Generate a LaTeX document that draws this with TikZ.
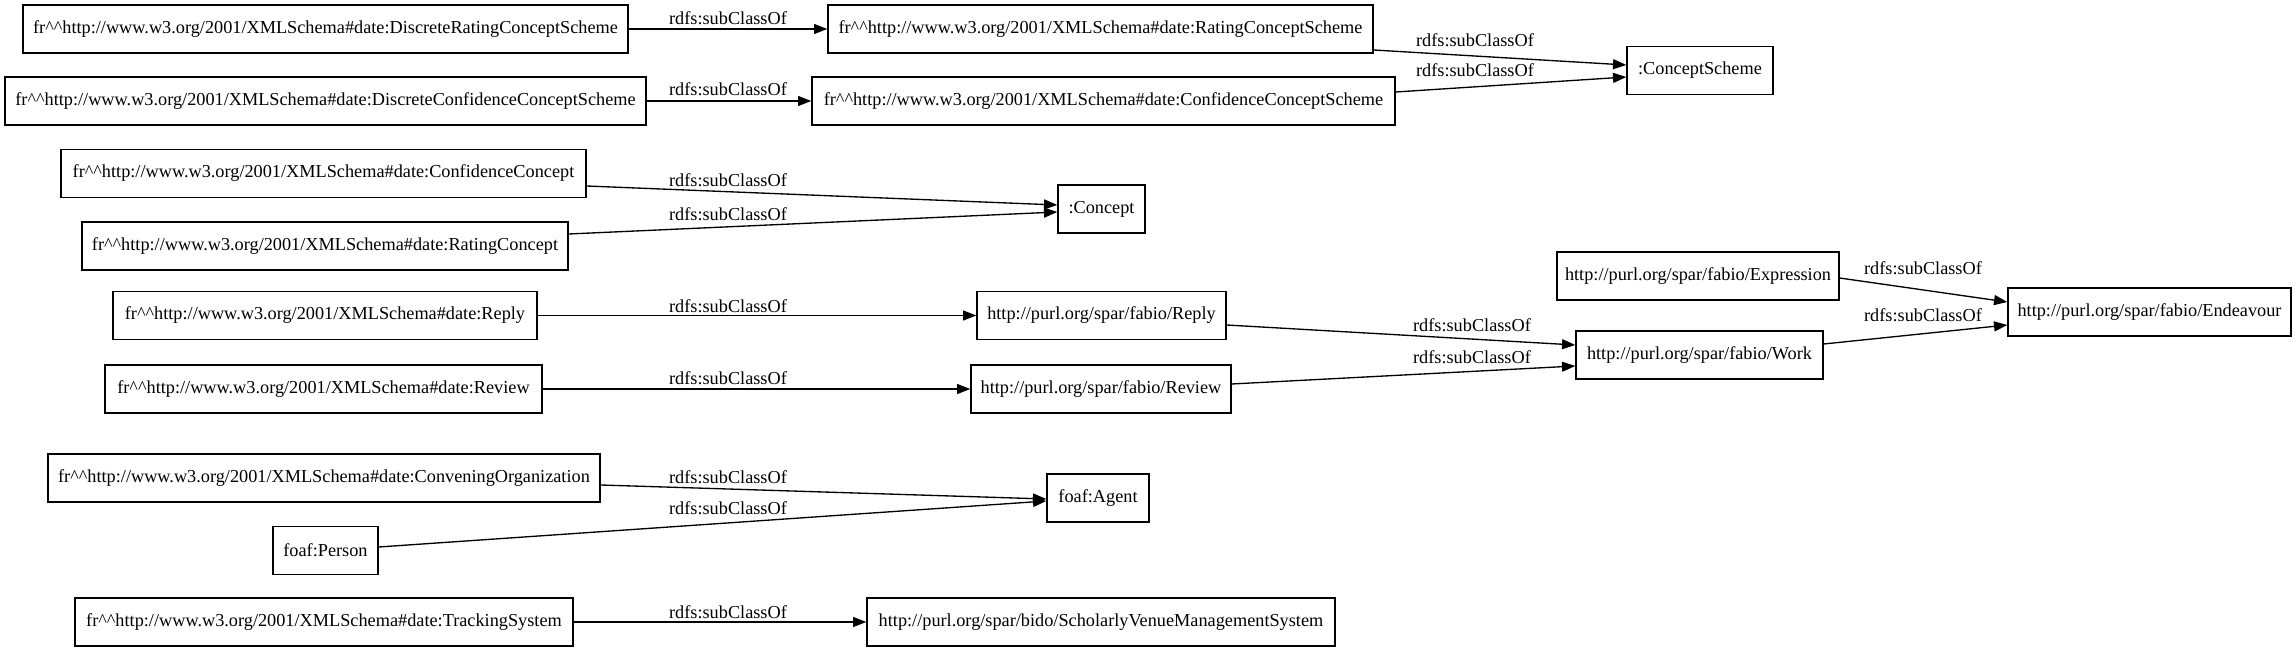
\documentclass[tikz,border=0pt]{standalone}
\usepackage{fontspec}
\setmainfont{Liberation Serif}
\usetikzlibrary{arrows.meta,calc}
\newcommand{\gvfont}{\fontsize{13.7pt}{17pt}\selectfont}
\begin{document}
\begin{tikzpicture}[x=0.75pt,y=-0.75pt,every node/.style={font=\gvfont},
  cls/.style={draw,line width=1pt,rectangle,inner sep=0pt,minimum height=36pt,minimum width=#1*0.75pt},
  lbl/.style={inner sep=0pt},
  link/.style={line width=1pt,-{Triangle[length=10pt,width=7.5pt]}}]
\useasboundingbox (0,0) rectangle (2296,652);
\node[cls=605] (drcs) at (325.5,29) {fr\^{}\^{}http://www.w3.org/2001/XMLSchema\#date:DiscreteRatingConceptScheme};
\node[cls=545] (rcs) at (1100.5,29) {fr\^{}\^{}http://www.w3.org/2001/XMLSchema\#date:RatingConceptScheme};
\node[cls=641] (dccs) at (325.5,101) {fr\^{}\^{}http://www.w3.org/2001/XMLSchema\#date:DiscreteConfidenceConceptScheme};
\node[cls=583] (ccs) at (1103.5,101) {fr\^{}\^{}http://www.w3.org/2001/XMLSchema\#date:ConfidenceConceptScheme};
\node[cls=146] (cscheme) at (1700,70.5) {:ConceptScheme};
\node[cls=525] (cconc) at (323.5,173.5) {fr\^{}\^{}http://www.w3.org/2001/XMLSchema\#date:ConfidenceConcept};
\node[cls=486] (rconc) at (325,246) {fr\^{}\^{}http://www.w3.org/2001/XMLSchema\#date:RatingConcept};
\node[cls=87] (concept) at (1101.5,209) {:Concept};
\node[cls=424] (frreply) at (325,315.5) {fr\^{}\^{}http://www.w3.org/2001/XMLSchema\#date:Reply};
\node[cls=249] (reply) at (1101.5,315.5) {http://purl.org/spar/fabio/Reply};
\node[cls=437] (frreview) at (323.5,389) {fr\^{}\^{}http://www.w3.org/2001/XMLSchema\#date:Review};
\node[cls=260] (review) at (1101,389) {http://purl.org/spar/fabio/Review};
\node[cls=282] (expr) at (1698,276) {http://purl.org/spar/fabio/Expression};
\node[cls=247] (work) at (1699.5,355) {http://purl.org/spar/fabio/Work};
\node[cls=283] (endeav) at (2149.5,312) {http://purl.org/spar/fabio/Endeavour};
\node[cls=552] (conv) at (324,478) {fr\^{}\^{}http://www.w3.org/2001/XMLSchema\#date:ConveningOrganization};
\node[cls=105] (person) at (325.5,550.5) {foaf:Person};
\node[cls=102] (agent) at (1098,498) {foaf:Agent};
\node[cls=498] (track) at (324,622) {fr\^{}\^{}http://www.w3.org/2001/XMLSchema\#date:TrackingSystem};
\node[cls=468] (svms) at (1101,622) {http://purl.org/spar/bido/ScholarlyVenueManagementSystem};
\draw[link] (drcs.east) -- (rcs.west);
\draw[link] (dccs.east) -- (ccs.west);
\draw[link] ($(rcs.east)+(0,21)$) -- ($(cscheme.west)+(0,-5.5)$);
\draw[link] ($(ccs.east)+(0,-9)$) -- ($(cscheme.west)+(0,6.5)$);
\draw[link] ($(cconc.east)+(0,12.5)$) -- ($(concept.west)+(0,-4)$);
\draw[link] ($(rconc.east)+(0,-12)$) -- ($(concept.west)+(0,3)$);
\draw[link] (frreply.east) -- (reply.west);
\draw[link] (frreview.east) -- (review.west);
\draw[link] ($(reply.east)+(0,9.5)$) -- ($(work.west)+(0,-10)$);
\draw[link] ($(review.east)+(0,-5)$) -- ($(work.west)+(0,11)$);
\draw[link] ($(expr.east)+(0,2)$) -- ($(endeav.west)+(0,-10)$);
\draw[link] ($(work.east)+(0,-11)$) -- ($(endeav.west)+(0,13)$);
\draw[link] ($(conv.east)+(0,7)$) -- ($(agent.west)+(0,1)$);
\draw[link] ($(person.east)+(0,-3.5)$) -- ($(agent.west)+(0,3)$);
\draw[link] (track.east) -- (svms.west);
\node[lbl] (l1) at (728,18) {rdfs:subClassOf};
\node[lbl] (l2) at (728,89) {rdfs:subClassOf};
\node[lbl] (l3) at (1475,40) {rdfs:subClassOf};
\node[lbl] (l4) at (1475,70) {rdfs:subClassOf};
\node[lbl] (l5) at (728,180) {rdfs:subClassOf};
\node[lbl] (l6) at (728,214) {rdfs:subClassOf};
\node[lbl] (l7) at (728,306) {rdfs:subClassOf};
\node[lbl] (l8) at (728,378) {rdfs:subClassOf};
\node[lbl] (l9) at (1472,325) {rdfs:subClassOf};
\node[lbl] (l10) at (1472,357) {rdfs:subClassOf};
\node[lbl] (l11) at (1923,268) {rdfs:subClassOf};
\node[lbl] (l12) at (1923,315) {rdfs:subClassOf};
\node[lbl] (l13) at (728,477) {rdfs:subClassOf};
\node[lbl] (l14) at (728,508) {rdfs:subClassOf};
\node[lbl] (l15) at (728,612) {rdfs:subClassOf};
\end{tikzpicture}
\end{document}
